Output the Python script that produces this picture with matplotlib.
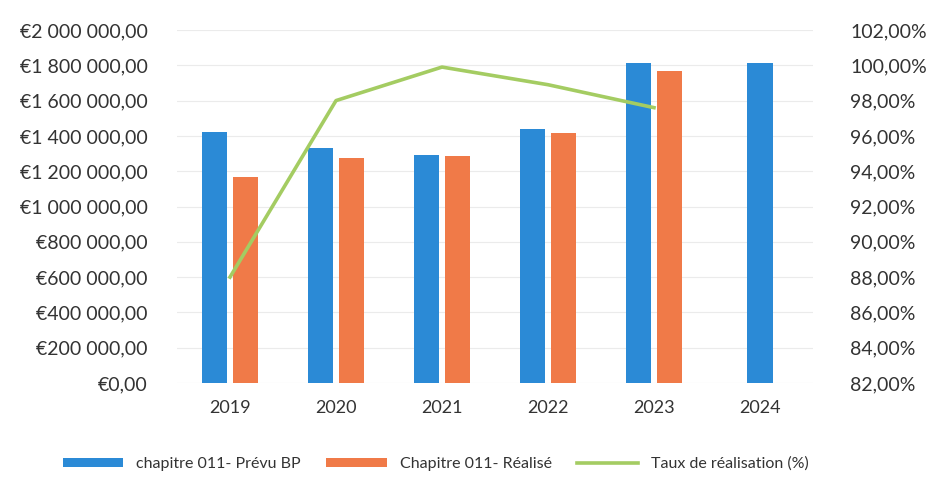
import matplotlib.pyplot as plt
import numpy as np
from matplotlib.ticker import FuncFormatter

annees = ['2019', '2020', '2021', '2022', '2023', '2024']
prevu_bp = [1422000, 1331000, 1292000, 1439000, 1813000, 1813000]
realise = [1167000, 1275000, 1286000, 1416000, 1768000]
taux = [88.0, 98.0, 99.9, 98.9, 97.6]

BLEU = '#2b8ad6'
ORANGE = '#f07a48'
VERT = '#a4cc62'
TEXTE = '#333333'

plt.rcParams['font.family'] = ['Lato', 'DejaVu Sans']


def euros(v, pos):
    s = f'{v:,.2f}'.replace(',', ' ').replace('.', ',')
    return '€' + s


def pourcent(v, pos):
    return f'{v:.2f}'.replace('.', ',') + '%'


fig = plt.figure(figsize=(9.37, 4.79), dpi=100)
ax = fig.add_axes([177 / 937, 1 - 383 / 479, 636 / 937, 353 / 479])

x = np.arange(len(annees))
larg = 0.24
dec = 0.145
# la derniere annee n'a que le prevu : barre centree
x_prevu = np.array([i - dec if i < len(realise) else i for i in x])
ax.bar(x_prevu, prevu_bp, width=larg, color=BLEU, label='chapitre 011- Prévu BP', zorder=3)
ax.bar(x[:len(realise)] + dec, realise, width=larg, color=ORANGE, label='Chapitre 011- Réalisé', zorder=3)

ax.set_ylim(0, 2000000)
ax.set_yticks(np.arange(0, 2000001, 200000))
ax.yaxis.set_major_formatter(FuncFormatter(euros))
ax.set_xlim(-0.5, len(annees) - 0.5)
ax.set_xticks(x)
ax.set_xticklabels(annees)
ax.grid(axis='y', color='#ebebeb', linewidth=0.8, zorder=0)
for s in ax.spines.values():
    s.set_visible(False)
ax.tick_params(length=0, colors=TEXTE)
ax.tick_params(axis='y', pad=21, labelsize=14)
ax.tick_params(axis='x', pad=12, labelsize=13)

ax2 = ax.twinx()
ax2.plot(x[:len(taux)], taux, color=VERT, linewidth=2.6, label='Taux de réalisation (%)', zorder=4)
ax2.set_ylim(82, 102)
ax2.set_yticks(np.arange(82, 102.1, 2))
ax2.yaxis.set_major_formatter(FuncFormatter(pourcent))
for s in ax2.spines.values():
    s.set_visible(False)
ax2.tick_params(length=0, labelsize=14, colors=TEXTE, pad=27)

h1, l1 = ax.get_legend_handles_labels()
h2, l2 = ax2.get_legend_handles_labels()
fig.legend(h1 + h2, l1 + l2, loc='center', bbox_to_anchor=(0.465, 1 - 464 / 479),
           ncol=3, frameon=False, fontsize=11.5, handlelength=3.8, handleheight=0.5,
           columnspacing=1.6, labelcolor=TEXTE)

fig.savefig('out.png', dpi=100, facecolor='white')
